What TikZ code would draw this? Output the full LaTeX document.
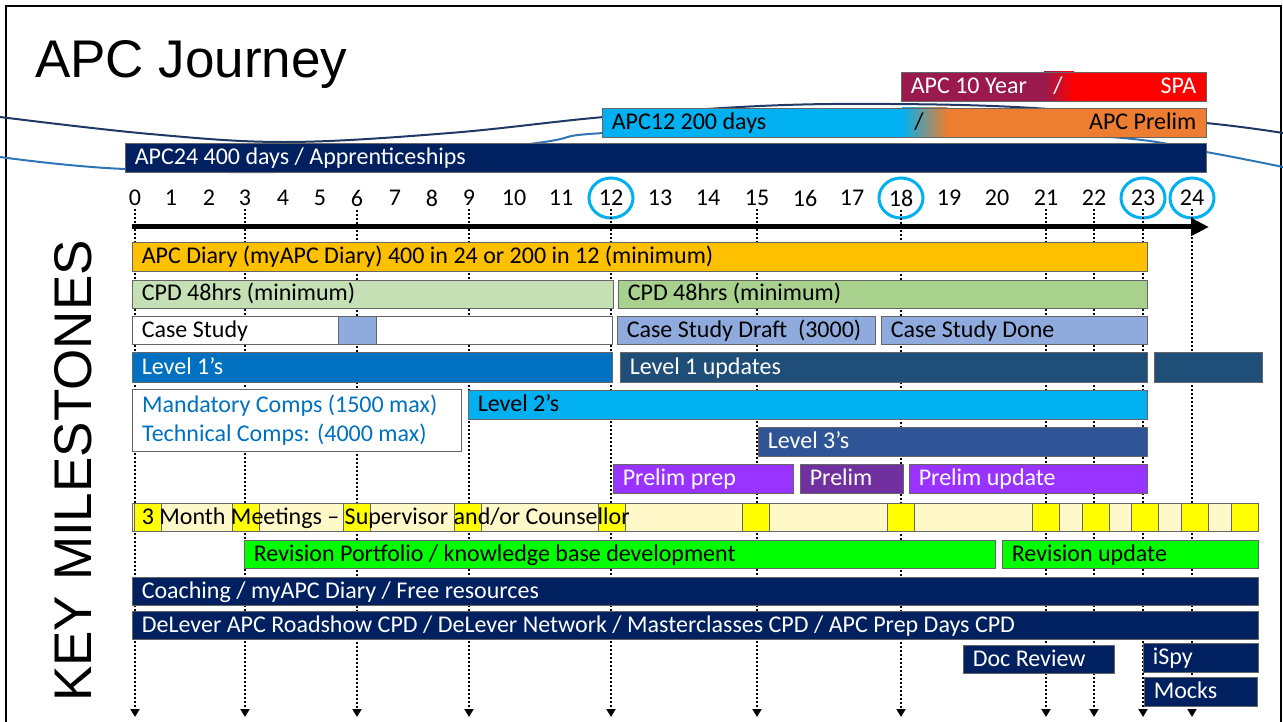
\documentclass[tikz,border=0pt]{standalone}
\usepackage{fontspec}
\setmainfont{Carlito}
\newfontfamily\headfont{Liberation Sans}
\usetikzlibrary{arrows.meta,fit}

\definecolor{navy}{HTML}{002060}
\definecolor{swdark}{HTML}{1F3864}
\definecolor{swlight}{HTML}{2E75B6}
\definecolor{ringblue}{HTML}{00B0F0}
\definecolor{maroon}{HTML}{9A1A4E}
\definecolor{apcred}{HTML}{FF0000}
\definecolor{sky}{HTML}{00B0F0}
\definecolor{orng}{HTML}{ED7D31}
\definecolor{diary}{HTML}{FFC000}
\definecolor{cpdlight}{HTML}{C5E0B4}
\definecolor{cpd}{HTML}{A9D18E}
\definecolor{casebl}{HTML}{8FAADC}
\definecolor{lvlone}{HTML}{0070C0}
\definecolor{lvlupd}{HTML}{1F4E79}
\definecolor{lvlthree}{HTML}{2F5597}
\definecolor{prep}{HTML}{9933FF}
\definecolor{prelim}{HTML}{7030A0}
\definecolor{meet}{HTML}{FFF9C9}
\definecolor{hi}{HTML}{FFFF00}
\definecolor{rev}{HTML}{00FF00}

\newcommand\rowfont{\fontsize{24}{29}\selectfont}

\tikzset{
  bar/.style={rectangle, draw=black!60, line width=.8pt, inner sep=0pt},
  lbl/.style={anchor=west, inner xsep=10pt, inner ysep=0pt, font=\rowfont,
    text height=17pt, text depth=3pt},
  num/.style={font=\rowfont},
  ring/.style={draw=ringblue, line width=3pt},
  guide/.style={line width=1.8pt, dash pattern=on 2pt off 2pt,
    -{Triangle[width=9pt,length=8pt]}},
  spine/.style={line width=5pt, -{Triangle[width=17pt,length=18pt]}},
  swoosh/.style={line width=2pt}
}

\begin{document}
\begin{tikzpicture}[x=1pt, y=-1pt]
\useasboundingbox (0,0) rectangle (1283,722);

% frame and title
\draw[line width=2.5pt] (6,722) -- (6,6) -- (1281,6) -- (1281,722);
\node[font=\headfont\fontsize{53}{60}\selectfont, anchor=base west, inner sep=0pt] (title) at (35,78) {APC Journey};
\node[font=\headfont\fontsize{53}{60}\selectfont, rotate=90, inner sep=0pt] (key) at (73,471) {KEY MILESTONES};

% swooshes
\draw[swoosh, draw=swdark] plot[smooth, tension=.6] coordinates {(0,117) (150,134) (287,142) (450,133) (604,117) (760,106) (890,104) (1033,108) (1206,123) (1283,133)};
\draw[swoosh, draw=swlight] plot[smooth, tension=.6] coordinates {(0,157) (125,169) (330,170) (537,143) (604,133) (850,124) (1111,137) (1206,152) (1283,167)};

% routes
\fill[maroon] (901,72) rectangle (1044,101);
\shade[left color=maroon, right color=apcred] (1044,72) rectangle (1074,101);
\fill[apcred] (1074,72) rectangle (1206,101);
\node[bar, fit={(901,72) (1206,101)}] (ten) {};
\node[lbl, text=white] (ten-t) at (ten.west) {APC 10 Year};
\node[num, text=white] (ten-s) at (1058,86) {/};
\node[lbl, anchor=east, text=white] (spa-t) at (ten.east) {SPA};

\fill[sky] (602,108) rectangle (902,137);
\shade[left color=sky, right color=orng] (902,108) rectangle (947,137);
\fill[orng] (947,108) rectangle (1206,137);
\node[bar, fit={(602,108) (1206,137)}] (twelve) {};
\node[lbl] (twelve-t) at (twelve.west) {APC12 200 days};
\node[num] (twelve-s) at (919,122) {/};
\node[lbl, anchor=east] (pre-t) at (twelve.east) {APC Prelim};

\node[bar, fill=navy, fit={(125,143) (1206,172)}] (tf) {};
\node[lbl, text=white] (tf-t) at (tf.west) {APC24 400 days / Apprenticeships};

% months
\foreach \m/\x in {0/135,1/171,2/209,3/245,4/283,5/320,6/357,7/395,8/432,9/469,10/514,11/561,12/611,
                   13/660,14/708,15/757,16/805,17/852,18/901,19/949,20/997,21/1046,22/1094,23/1143,24/1192}
  \node[num] (m\m) at (\x,198) {\m};
\foreach \m in {12,18,23,24}
  \draw[ring] (m\m) ellipse [x radius=22pt, y radius=20pt];

\coordinate (foot) at (0,717);
\foreach \m in {0,3,6,9,12,15,18,21,22,23,24}
  \draw[guide] (m\m.south) -- (m\m.south |- foot);

\coordinate (s) at (132,227);
\coordinate (e) at (1209,227);
\draw[spine] (s) -- (e);

% milestones
\node[bar, fill=diary, fit={(132,242) (1147,271)}] (diary) {};
\node[lbl] (diary-t) at (diary.west) {APC Diary (myAPC Diary) 400 in 24 or 200 in 12 (minimum)};

\node[bar, fill=cpdlight, fit={(132,280) (613,308)}] (cpda) {};
\node[lbl] (cpda-t) at (cpda.west) {CPD 48hrs (minimum)};
\node[bar, fill=cpd, fit={(618,280) (1147,308)}] (cpdb) {};
\node[lbl] (cpdb-t) at (cpdb.west) {CPD 48hrs (minimum)};

\node[bar, fill=white, fit={(132,316) (612,344)}] (case) {};
\node[bar, fill=casebl, fit={(338,316) (376,344)}] (casesq) {};
\node[lbl] (case-t) at (case.west) {Case Study};
\node[bar, fill=casebl, fit={(617,316) (875,344)}] (draft) {};
\node[lbl] (draft-t) at (draft.west) {Case Study Draft\ \ (3000)};
\node[bar, fill=casebl, fit={(881,316) (1147,344)}] (done) {};
\node[lbl] (done-t) at (done.west) {Case Study Done};

\node[bar, fill=lvlone, fit={(132,352) (612,382)}] (lone) {};
\node[lbl, text=white] (lone-t) at (lone.west) {Level 1’s};
\node[bar, fill=lvlupd, fit={(620,352) (1147,382)}] (lupd) {};
\node[lbl, text=white] (lupd-t) at (lupd.west) {Level 1 updates};
\node[bar, fill=lvlupd, fit={(1154,352) (1262,382)}] (lend) {};

\node[bar, fill=white, fit={(132,389) (461,451)}] (comps) {};
\node[lbl, text=lvlone] (comps-a) at (132,405) {Mandatory Comps (1500 max)};
\node[lbl, text=lvlone] (comps-b) at (132,434) {Technical Comps: (4000 max)};
\node[bar, fill=sky, fit={(468,390) (1147,419)}] (ltwo) {};
\node[lbl] (ltwo-t) at (ltwo.west) {Level 2’s};

\node[bar, fill=lvlthree, fit={(758,427) (1147,456)}] (lthree) {};
\node[lbl, text=white] (lthree-t) at (lthree.west) {Level 3’s};

\node[bar, fill=prep, fit={(613,464) (793,493)}] (pprep) {};
\node[lbl, text=white] (pprep-t) at (pprep.west) {Prelim prep};
\node[bar, fill=prelim, fit={(800,464) (903,493)}] (pre) {};
\node[lbl, text=white] (pre-t2) at (pre.west) {Prelim};
\node[bar, fill=prep, fit={(909,464) (1147,493)}] (pupd) {};
\node[lbl, text=white] (pupd-t) at (pupd.west) {Prelim update};

\node[bar, fill=meet, fit={(132,503) (1258,531)}] (meet) {};
\foreach \x [count=\i] in {134,232,343,454,598,742,887,1032,1082,1131,1181,1231}
  \node[bar, fill=hi, fit={(\x,503) (\x+27,531)}] (sq\i) {};
\node[lbl] (meet-t) at (meet.west) {3 Month Meetings – Supervisor and/or Counsellor};

\node[bar, fill=rev, fit={(244,540) (995,568)}] (rev) {};
\node[lbl] (rev-t) at (rev.west) {Revision Portfolio / knowledge base development};
\node[bar, fill=rev, fit={(1002,540) (1258,568)}] (revupd) {};
\node[lbl] (revupd-t) at (revupd.west) {Revision update};

\node[bar, fill=navy, fit={(132,577) (1258,605)}] (coach) {};
\node[lbl, text=white] (coach-t) at (coach.west) {Coaching / myAPC Diary / Free resources};
\node[bar, fill=navy, fit={(132,611) (1258,639)}] (dl) {};
\node[lbl, text=white] (dl-t) at (dl.west) {DeLever APC Roadshow CPD / DeLever Network / Masterclasses CPD / APC Prep Days CPD};

\node[bar, fill=navy, fit={(963,645) (1114,673)}] (doc) {};
\node[lbl, text=white] (doc-t) at (doc.west) {Doc Review};
\node[bar, fill=navy, fit={(1143,643) (1258,672)}] (ispy) {};
\node[lbl, text=white] (ispy-t) at (ispy.west) {iSpy};
\node[bar, fill=navy, fit={(1144,677) (1257,706)}] (mocks) {};
\node[lbl, text=white] (mocks-t) at (mocks.west) {Mocks};
\end{tikzpicture}
\end{document}
